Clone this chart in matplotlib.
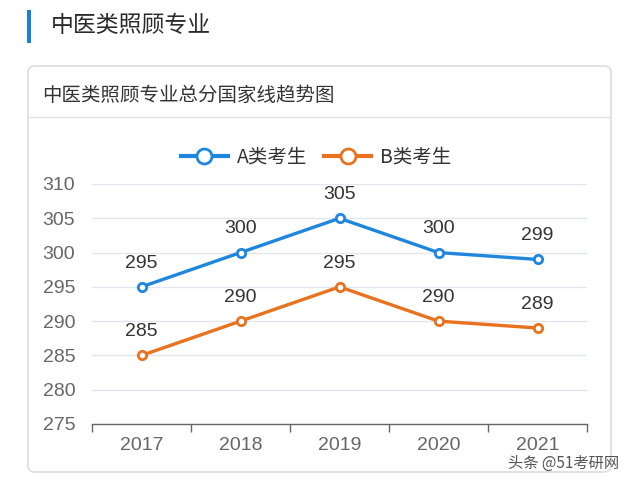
import matplotlib
matplotlib.use("Agg")
import matplotlib.pyplot as plt
from matplotlib.patches import FancyBboxPatch, Rectangle
from matplotlib.lines import Line2D

plt.rcParams['font.family'] = ['Noto Sans CJK SC', 'DejaVu Sans']

years = ['2017', '2018', '2019', '2020', '2021']
series_a = [295, 300, 305, 300, 299]
series_b = [285, 290, 295, 290, 289]
name_a = 'A类考生'
name_b = 'B类考生'
yticks = [275, 280, 285, 290, 295, 300, 305, 310]

W, H = 640, 483
fig = plt.figure(figsize=(6.4, 4.83), dpi=100)
fig.patch.set_facecolor('white')

def fx(px): return px / W
def fy(py): return 1 - py / H

num_font = 'Liberation Sans'

# header bar and title
bar = Rectangle((fx(27), fy(43)), 4 / W, 33 / H, transform=fig.transFigure,
                facecolor='#1a7fd6', edgecolor='none', zorder=-2)
fig.patches.append(bar)
fig.text(fx(51), fy(26), '中医类照顾专业', fontsize=16.5, color='#2a2a2a', va='center', ha='left')

# card
card = FancyBboxPatch((fx(28), fy(472)), (611 - 28) / W, (472 - 66) / H,
                      boxstyle='round,pad=0,rounding_size=0.012', transform=fig.transFigure,
                      facecolor='white', edgecolor='#dddddd', linewidth=1.2, zorder=-2)
fig.patches.append(card)
fig.text(fx(42), fy(95), '中医类照顾专业总分国家线趋势图', fontsize=14, color='#333333', va='center', ha='left')
fig.lines.append(Line2D([fx(28), fx(611)], [fy(117), fy(117)], transform=fig.transFigure,
                        color='#e2e2e2', linewidth=1, zorder=-1))

ax = fig.add_axes([fx(92), fy(424), (587 - 92) / W, (424 - 184) / H])
x = list(range(len(years)))
blue = '#1f86dd'
orange = '#e8721e'
ax.plot(x, series_a, color=blue, linewidth=2.4, marker='o', markersize=6,
        markerfacecolor='white', markeredgewidth=2, label=name_a, zorder=3)
ax.plot(x, series_b, color=orange, linewidth=2.4, marker='o', markersize=6,
        markerfacecolor='white', markeredgewidth=2, label=name_b, zorder=3)
for xi, v in zip(x, series_a):
    ax.annotate(str(v), (xi, v), xytext=(0, 11), textcoords='offset points',
                ha='center', va='bottom', fontsize=14, color='#333333', family=num_font)
for xi, v in zip(x, series_b):
    ax.annotate(str(v), (xi, v), xytext=(0, 11), textcoords='offset points',
                ha='center', va='bottom', fontsize=14, color='#333333', family=num_font)

ax.set_xlim(-0.5, len(years) - 0.5)
ax.set_ylim(275, 310)
ax.set_yticks(yticks)
ax.set_yticklabels([str(t) for t in yticks], family=num_font)
ax.set_xticks(x)
ax.set_xticklabels(years, family=num_font)
ax.set_xticks([i - 0.5 for i in range(len(years) + 1)], minor=True)
ax.tick_params(axis='y', length=0, labelsize=14, labelcolor='#666666', pad=12)
ax.tick_params(axis='x', which='major', length=0, labelsize=14, labelcolor='#666666', pad=9)
ax.tick_params(axis='x', which='minor', length=6, color='#666666', width=1, direction='out')
ax.grid(axis='y', color='#e3e6ee', linewidth=1)
ax.set_axisbelow(True)
for s in ['top', 'right', 'left']:
    ax.spines[s].set_visible(False)
ax.spines['bottom'].set_color('#666666')
ax.spines['bottom'].set_linewidth(1)
ax.set_facecolor('none')

leg = fig.legend(loc='center', bbox_to_anchor=(fx(316), fy(157)), ncol=2, frameon=False,
                 fontsize=14, handlelength=2.4, columnspacing=0.9, handletextpad=0.45,
                 markerscale=1.8)
for t in leg.get_texts():
    t.set_color('#333333')
for h in leg.legend_handles:
    h.set_linewidth(3)

fig.text(fx(564), fy(463), '头条 @51考研网', fontsize=11, color='#555555', ha='center', va='center')

fig.savefig('out.png', dpi=100)
